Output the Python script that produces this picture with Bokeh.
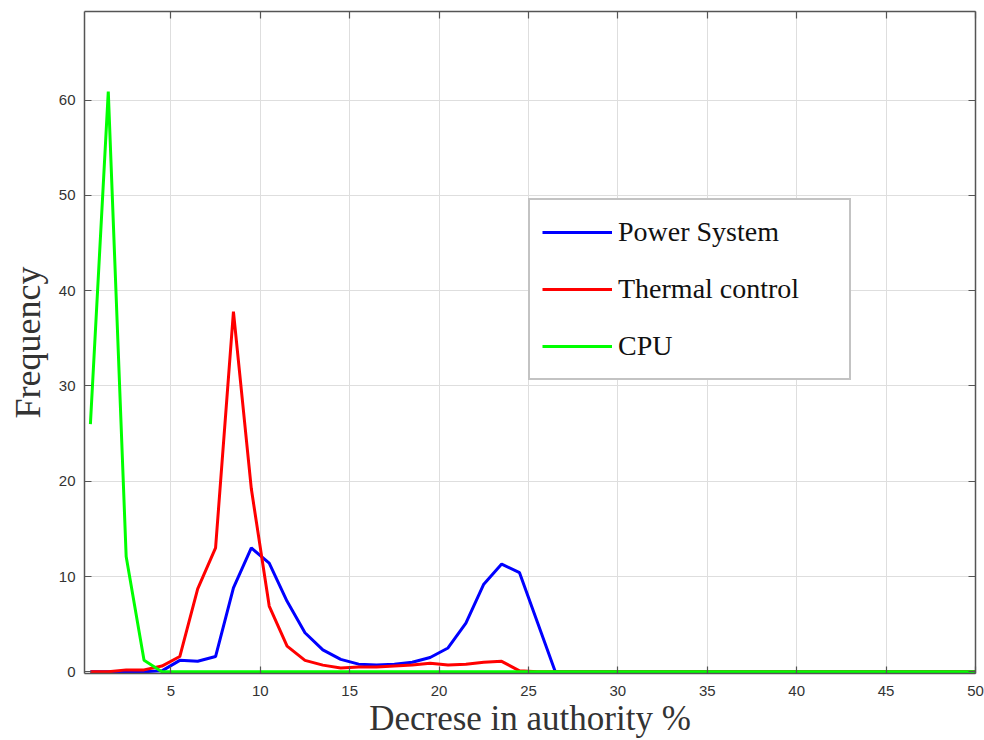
from bokeh.plotting import figure
from bokeh.models import (Range1d, FixedTicker, LinearAxis, Legend, LegendItem,
                          CustomJSTickFormatter)
from bokeh.embed import file_html
from bokeh.resources import INLINE

# Bin centres (Decrese in authority %), last point at the axis end
bins = [i + 0.5 for i in range(50)] + [50]

power_system = [0, 0, 0, 0, 0.1, 1.2, 1.1, 1.6, 8.8, 13.0,
                11.4, 7.4, 4.1, 2.3, 1.3, 0.8, 0.7, 0.8, 1.0, 1.5,
                2.5, 5.1, 9.2, 11.3, 10.4, 5.2, 0, 0, 0, 0,
                0, 0, 0, 0, 0, 0, 0, 0, 0, 0,
                0, 0, 0, 0, 0, 0, 0, 0, 0, 0, 0]

thermal_control = [0, 0, 0.2, 0.2, 0.6, 1.6, 8.7, 13.0, 37.8, 19.2,
                   6.9, 2.7, 1.2, 0.7, 0.4, 0.5, 0.5, 0.6, 0.7, 0.9,
                   0.7, 0.8, 1.0, 1.1, 0.1, 0, 0, 0, 0, 0,
                   0, 0, 0, 0, 0, 0, 0, 0, 0, 0,
                   0, 0, 0, 0, 0, 0, 0, 0, 0, 0, 0]

cpu = [26.0, 60.9, 12.1, 1.2, 0, 0, 0, 0, 0, 0,
       0, 0, 0, 0, 0, 0, 0, 0, 0, 0,
       0, 0, 0, 0, 0, 0, 0, 0, 0, 0,
       0, 0, 0, 0, 0, 0, 0, 0, 0, 0,
       0, 0, 0, 0, 0, 0, 0, 0, 0, 0, 0]

x_ticks = [5, 10, 15, 20, 25, 30, 35, 40, 45, 50]
y_ticks = [0, 10, 20, 30, 40, 50, 60]

series_names = ["Power System", "Thermal control", "CPU"]
series_colors = ["#0000ff", "#ff0000", "#00ff00"]

AXIS_COLOR = "#555555"
TICK_FONT = "Liberation Sans"
LABEL_FONT = "Liberation Serif"

p = figure(width=984, height=740, output_backend="svg", toolbar_location=None,
           x_range=Range1d(0.17, 50), y_range=Range1d(-0.18, 69.3),
           min_border_left=84, min_border_right=9, min_border_top=11,
           min_border_bottom=67)
p.outline_line_color = None
p.background_fill_color = "white"
p.border_fill_color = "white"

renderers = []
for vals, col in zip([power_system, thermal_control, cpu], series_colors):
    r = p.line(bins, vals, line_color=col, line_width=3)
    renderers.append(r)

def style_axis(ax, labels=True):
    ax.axis_line_color = AXIS_COLOR
    ax.axis_line_width = 1.5
    ax.major_tick_line_color = AXIS_COLOR
    ax.major_tick_line_width = 1.2
    ax.major_tick_in = 7
    ax.major_tick_out = 0
    ax.minor_tick_in = 0
    ax.minor_tick_out = 0
    ax.major_label_text_font = TICK_FONT
    ax.major_label_text_font_size = "15px"
    ax.major_label_text_color = "#333333"
    if not labels:
        ax.formatter = CustomJSTickFormatter(code="return ''")
        ax.major_label_standoff = 0

xa = p.xaxis[0]
xa.ticker = FixedTicker(ticks=x_ticks)
style_axis(xa)
xa.major_label_standoff = 12
xa.axis_label = "Decrese in authority %"
xa.axis_label_text_font = LABEL_FONT
xa.axis_label_text_font_style = "normal"
xa.axis_label_text_font_size = "35px"
xa.axis_label_text_color = "#333333"
xa.axis_label_standoff = 0

ya = p.yaxis[0]
ya.ticker = FixedTicker(ticks=y_ticks)
style_axis(ya)
ya.major_label_standoff = 9
ya.axis_label = "Frequency"
ya.axis_label_text_font = LABEL_FONT
ya.axis_label_text_font_style = "normal"
ya.axis_label_text_font_size = "36px"
ya.axis_label_text_color = "#333333"
ya.axis_label_standoff = 8

top = LinearAxis(ticker=FixedTicker(ticks=x_ticks))
style_axis(top, labels=False)
p.add_layout(top, "above")
right = LinearAxis(ticker=FixedTicker(ticks=y_ticks))
style_axis(right, labels=False)
p.add_layout(right, "right")

p.xgrid.ticker = FixedTicker(ticks=x_ticks)
p.ygrid.ticker = FixedTicker(ticks=y_ticks)
p.grid.grid_line_color = "#dedede"
p.grid.grid_line_width = 1

items = [LegendItem(label=n, renderers=[r]) for n, r in zip(series_names, renderers)]
legend = Legend(items=items, location=(444, 293))
legend.label_text_font = LABEL_FONT
legend.label_text_font_size = "28px"
legend.label_text_color = "#111111"
legend.glyph_width = 70
legend.glyph_height = 40
legend.label_height = 40
legend.label_width = 219
legend.label_standoff = 6
legend.spacing = 17
legend.padding = 12
legend.margin = 0
legend.border_line_color = "#888888"
legend.border_line_width = 2
legend.background_fill_color = "white"
legend.background_fill_alpha = 1
p.add_layout(legend, "center")

open("out.html", "w").write(file_html(p, INLINE))
